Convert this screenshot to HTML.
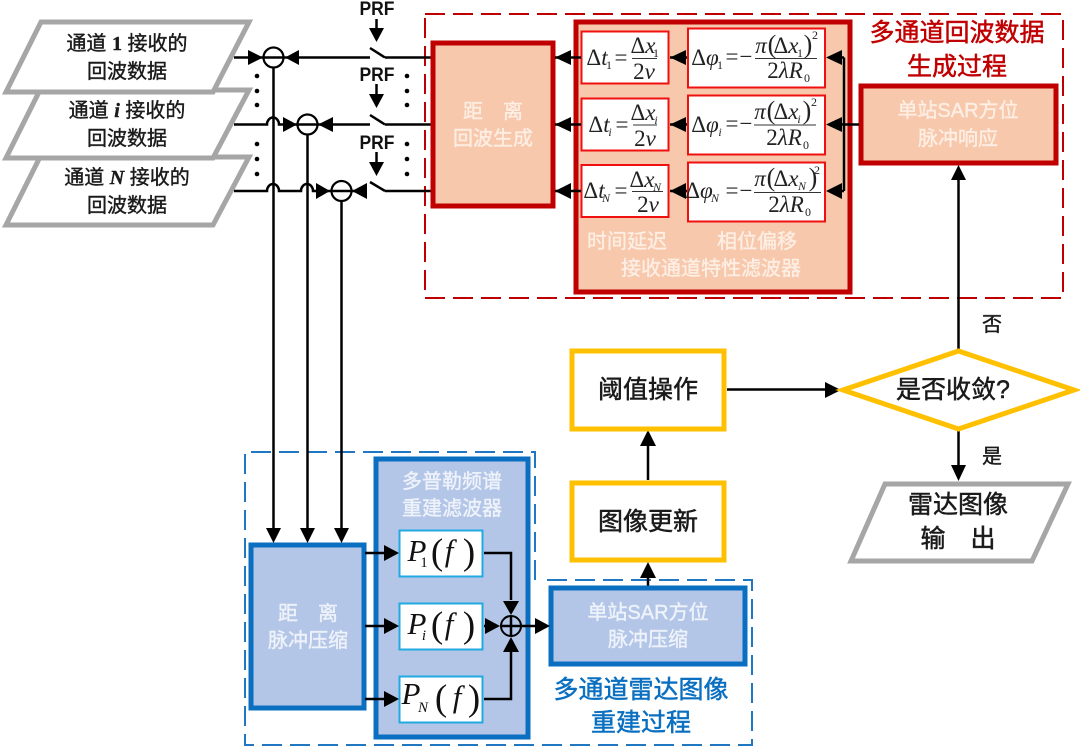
<!DOCTYPE html>
<html><head><meta charset="utf-8">
<style>
html,body{margin:0;padding:0;background:#fff}
svg{display:block}
text{font-family:"Liberation Sans","Noto Sans CJK SC",sans-serif;text-anchor:middle}
.k{font-size:20px;font-weight:400;fill:#1a1a1a;stroke:#1a1a1a;stroke-width:.4px}
.k2{font-size:25px;font-weight:400;fill:#1a1a1a;stroke:#1a1a1a;stroke-width:.5px}
.w{font-size:20px;font-weight:400;fill:#fdeee4;stroke:#fdeee4;stroke-width:.4px}
.wb{font-size:20px;font-weight:400;fill:#eef2fa;stroke:#eef2fa;stroke-width:.4px}
.m text{font-family:"Liberation Serif",serif;font-size:23px;fill:#222}
.m text.i{font-style:italic}
.m text.s{font-size:12px}
.m text.p{font-size:26px}
.f text{font-family:"Liberation Serif",serif;fill:#111}
.f text.P{font-size:31px;font-style:italic}
.f text.ff{font-size:31px;font-style:italic}
.f text.b{font-size:37px;font-weight:400}
.f text.s{font-size:15px}
.f text.si{font-size:15px;font-style:italic}
.l{stroke:#000;stroke-width:2.500;fill:none}
.a{fill:#000}
</style></head><body>
<svg width="1080" height="747" viewBox="0 0 1080 747" xmlns="http://www.w3.org/2000/svg">
<!-- parallelograms -->
<g fill="#fff" stroke="#a6a6a6" stroke-width="5">
<polygon points="40,157 249,157 213,225 6,225"/>
<polygon points="40,90 249,90 213,158 6,158"/>
<polygon points="41,22 249,22 213,92 6,92"/>
<polygon points="885,484 1068,484 1032,561 851,561"/>
</g>
<text class="k" x="127" y="50">通道 <tspan font-family="Liberation Serif" font-weight="700">1</tspan> 接收的</text>
<text class="k" x="127" y="78">回波数据</text>
<text class="k" x="127" y="117">通道 <tspan font-family="Liberation Serif" font-weight="700" font-style="italic">i</tspan> 接收的</text>
<text class="k" x="127" y="145">回波数据</text>
<text class="k" x="127" y="184">通道 <tspan font-family="Liberation Serif" font-weight="700" font-style="italic">N</tspan> 接收的</text>
<text class="k" x="127" y="212">回波数据</text>

<!-- dashed boxes -->
<rect x="425" y="14" width="638" height="284" fill="none" stroke="#c00000" stroke-width="2" stroke-dasharray="20 8"/>
<path d="M535,580V452H245V745H752V580H543" fill="none" stroke="#1f78c1" stroke-width="2" stroke-dasharray="20 8"/>

<!-- left wires -->
<path class="l" d="M234,57.500H263M283,57.500H370M385,57.500H432"/>
<path class="l" d="M234,124.500H267a6,7 0 0 1 12,0H297M317,124.500H370M385,124.500H432"/>
<path class="l" d="M234,191H267a6,7 0 0 1 12,0H301a6,7 0 0 1 12,0H331M351,191H362M385,191H432"/>
<path class="l" d="M370,48L385,57.500M370,115L385,124.500M370,182L385,191"/>
<path class="l" d="M273.500,67V530M307.500,134V530M341.500,201V530"/>
<g fill="#fff" stroke="#000" stroke-width="2.200">
<circle cx="273.500" cy="57.500" r="10"/><circle cx="307.500" cy="124.500" r="10"/><circle cx="341.500" cy="191" r="10"/>
</g>
<path class="l" d="M263.500,57.500H283.500M297.500,124.500H317.500M331.500,191H351.500"/>
<g class="a">
<polygon points="248,50 248,65 263,57.500"/><polygon points="299,50 299,65 285,57.500"/>
<polygon points="283,117 283,132 297,124.500"/><polygon points="333,117 333,132 318,124.500"/>
<polygon points="316,183 316,199 330,191"/><polygon points="367,183 367,199 352,191"/>
<polygon points="369,28 384,28 376.500,42"/>
<polygon points="369,94 384,94 376.500,108"/>
<polygon points="369,162 384,162 376.500,176"/>
<polygon points="266,528 281,528 273.500,543"/>
<polygon points="300,528 315,528 307.500,543"/>
<polygon points="334,528 349,528 341.500,543"/>
</g>
<path class="l" d="M376.500,19V30M376.500,84V96M376.500,152V164"/>
<g font-size="19" font-weight="700" fill="#111">
<text x="377" y="15" textLength="35" lengthAdjust="spacingAndGlyphs">PRF</text>
<text x="377" y="81" textLength="35" lengthAdjust="spacingAndGlyphs">PRF</text>
<text x="377" y="149" textLength="35" lengthAdjust="spacingAndGlyphs">PRF</text>
</g>
<g fill="#000">
<circle cx="257" cy="76" r="2.300"/><circle cx="257" cy="91" r="2.300"/><circle cx="257" cy="105" r="2.300"/>
<circle cx="257" cy="144" r="2.300"/><circle cx="257" cy="159" r="2.300"/><circle cx="257" cy="174" r="2.300"/>
<circle cx="407" cy="76" r="2.300"/><circle cx="407" cy="91" r="2.300"/><circle cx="407" cy="105" r="2.300"/>
<circle cx="407" cy="144" r="2.300"/><circle cx="407" cy="159" r="2.300"/><circle cx="407" cy="174" r="2.300"/>
</g>

<!-- red section -->
<rect x="433" y="43" width="120" height="163" fill="#f7c8ab" stroke="#c00000" stroke-width="5"/>
<text class="w" x="493" y="118">距　离</text>
<text class="w" x="493" y="145">回波生成</text>
<rect x="576" y="22" width="274" height="270" fill="#f7c8ab" stroke="#c00000" stroke-width="5"/>
<g fill="#fff" stroke="#f01010" stroke-width="2">
<rect x="581.500" y="31.500" width="87" height="52"/><rect x="581.500" y="98.500" width="87" height="52"/><rect x="581.500" y="165" width="87" height="52"/>
<rect x="688" y="28.500" width="137" height="59"/><rect x="688" y="95.500" width="137" height="59"/><rect x="688" y="162.500" width="137" height="59"/>
</g>
<!-- formulas -->
<g class="m">
<!-- t1 -->
<text x="597" y="65">Δ<tspan font-style="italic">t</tspan></text><text class="s" x="609" y="69">1</text><text x="621" y="65">=</text>
<text x="643" y="53">Δ<tspan font-style="italic">x</tspan></text><text class="s" x="656" y="57">1</text><text x="644" y="79">2<tspan font-style="italic">v</tspan></text>
<!-- ti -->
<text x="599" y="132">Δ<tspan font-style="italic">t</tspan></text><text class="s i" x="610" y="136">i</text><text x="622" y="132">=</text>
<text x="643" y="120">Δ<tspan font-style="italic">x</tspan></text><text class="s i" x="656" y="124">i</text><text x="645" y="146">2<tspan font-style="italic">v</tspan></text>
<!-- tN -->
<text x="594" y="198">Δ<tspan font-style="italic">t</tspan></text><text class="s i" x="606" y="202">N</text><text x="621" y="198">=</text>
<text x="642" y="187">Δ<tspan font-style="italic">x</tspan></text><text class="s i" x="657" y="191">N</text><text x="648" y="212">2<tspan font-style="italic">v</tspan></text>
<!-- phi 1 -->
<text x="705" y="65">Δ<tspan font-style="italic">φ</tspan></text><text class="s" x="720" y="69">1</text><text x="732" y="64">=</text><text x="746" y="64">−</text>
<text class="i" x="761" y="53">π</text><text class="p" x="772" y="53">(</text><text x="786" y="53">Δ<tspan font-style="italic">x</tspan></text><text class="s" x="800" y="57">1</text><text class="p" x="808" y="53">)</text><text class="s" x="815" y="39">2</text>
<text x="785" y="78">2<tspan font-style="italic">λR</tspan></text><text class="s" x="807" y="82">0</text>
<!-- phi i -->
<text x="705" y="132">Δ<tspan font-style="italic">φ</tspan></text><text class="s i" x="720" y="136">i</text><text x="732" y="131">=</text><text x="746" y="131">−</text>
<text class="i" x="760" y="119">π</text><text class="p" x="771" y="119">(</text><text x="786" y="119">Δ<tspan font-style="italic">x</tspan></text><text class="s i" x="799" y="123">i</text><text class="p" x="807" y="119">)</text><text class="s" x="814" y="106">2</text>
<text x="784" y="145">2<tspan font-style="italic">λR</tspan></text><text class="s" x="806" y="149">0</text>
<!-- phi N -->
<text x="699" y="198">Δ<tspan font-style="italic">φ</tspan></text><text class="s i" x="715" y="202">N</text><text x="732" y="198">=</text><text x="746" y="198">−</text>
<text class="i" x="760" y="186">π</text><text class="p" x="771" y="186">(</text><text x="786" y="186">Δ<tspan font-style="italic">x</tspan></text><text class="s i" x="802" y="190">N</text><text class="p" x="813" y="186">)</text><text class="s" x="817" y="174">2</text>
<text x="786" y="212">2<tspan font-style="italic">λR</tspan></text><text class="s" x="808" y="216">0</text>
</g>
<path stroke="#333" stroke-width="1" fill="none" d="M632,58.500H657M633,125H657M632,191.500H663M755,58.500H817M754,125H816M754,192.500H821"/>
<text class="w" x="627" y="248">时间延迟</text><text class="w" x="757" y="248">相位偏移</text>
<text class="w" x="711" y="275">接收通道特性滤波器</text>
<text x="957" y="41" font-size="25" fill="#c00000" stroke="#c00000" stroke-width=".5">多通道回波数据</text>
<text x="957" y="75" font-size="25" fill="#c00000" stroke="#c00000" stroke-width=".5">生成过程</text>
<rect x="861" y="86" width="195" height="77" fill="#f7c8ab" stroke="#c00000" stroke-width="5"/>
<text class="w" x="958" y="117">单站SAR方位</text><text class="w" x="958" y="145">脉冲响应</text>
<!-- red section arrows -->
<path class="l" d="M859,124.500H836M844,57.500V191M844,57.500H835M844,191H835M670,57.500H687M670,124.500H687M670,191H687M555,57.500H581M555,124.500H581M555,191H581"/>
<g class="a">
<polygon points="826,57.500 842,50 842,65"/><polygon points="826,124.500 842,117 842,132"/><polygon points="826,191 842,183 842,199"/>
<polygon points="670,57.500 686,50 686,65"/><polygon points="670,124.500 686,117 686,132"/><polygon points="670,191 686,183 686,199"/>
<polygon points="555,57.500 571,50 571,65"/><polygon points="555,124.500 571,117 571,132"/><polygon points="555,191 571,183 571,199"/>
<polygon points="958.500,165 966,180 951,180"/>
<polygon points="958.500,481 966,465 951,465"/>
<polygon points="841,390 825,382 825,398"/>
<polygon points="648,430 656,446 640,446"/>
<polygon points="648,562 656,578 640,578"/>
</g>
<path class="l" d="M958.500,175V350M958.500,430V470M727,389.500H830M648,442V480M648,575V586"/>
<!-- yellow -->
<g fill="#fff" stroke="#ffc000" stroke-width="5">
<rect x="572" y="351" width="152" height="78"/>
<rect x="572" y="483" width="152" height="77"/>
<polygon points="843,390 958.500,351 1074,390 958.500,429"/>
</g>
<text class="k2" x="648" y="398">阈值操作</text>
<text class="k2" x="648" y="530">图像更新</text>
<text class="k2" x="953" y="398">是否收敛?</text>
<text class="k" x="992" y="331">否</text>
<text class="k" x="992" y="463">是</text>
<text class="k2" x="958" y="513">雷达图像</text>
<text class="k2" x="958" y="547">输　出</text>
<!-- blue section -->
<rect x="251" y="545" width="113" height="163" fill="#b4c6e7" stroke="#0a6fc0" stroke-width="5"/>
<text class="wb" x="308" y="620">距　离</text><text class="wb" x="308" y="647">脉冲压缩</text>
<rect x="376" y="459" width="152" height="278" fill="#b4c6e7" stroke="#0a6fc0" stroke-width="5"/>
<text class="wb" x="452" y="488">多普勒频谱</text><text class="wb" x="452" y="515">重建滤波器</text>
<g fill="#fff" stroke="#21a9e1" stroke-width="2">
<rect x="399.500" y="530.500" width="83" height="46"/><rect x="399.500" y="603.500" width="83" height="46"/><rect x="399.500" y="676.500" width="83" height="46"/>
</g>
<g class="f">
<text class="P" x="417" y="561">P</text><text class="s" x="424" y="567">1</text><text class="b" x="437" y="564">(</text><text class="ff" x="449" y="561">f</text><text class="b" x="469" y="564">)</text>
<text class="P" x="417" y="634">P</text><text class="si" x="424" y="640">i</text><text class="b" x="437" y="637">(</text><text class="ff" x="449" y="634">f</text><text class="b" x="469" y="637">)</text>
<text class="P" x="411" y="704">P</text><text class="si" x="423" y="712">N</text><text class="b" x="441" y="710">(</text><text class="ff" x="457" y="707">f</text><text class="b" x="474" y="710">)</text>
</g>
<rect x="551" y="588" width="194" height="76" fill="#b4c6e7" stroke="#0a6fc0" stroke-width="5"/>
<text class="wb" x="648" y="619">单站SAR方位</text><text class="wb" x="648" y="646">脉冲压缩</text>
<text x="641" y="698" font-size="25" fill="#0a6fc0" stroke="#0a6fc0" stroke-width=".5">多通道雷达图像</text>
<text x="641" y="731" font-size="25" fill="#0a6fc0" stroke="#0a6fc0" stroke-width=".5">重建过程</text>
<path class="l" d="M365,553H385M365,626H385M365,699H385M484,553H511V600M484,699H511V650M522,626H535M484,626H490"/>
<g class="a">
<polygon points="399,553 384,545 384,561"/><polygon points="399,626 384,618 384,634"/><polygon points="399,699 384,691 384,707"/>
<polygon points="511,615 503,601 519,601"/><polygon points="511,637 503,652 519,652"/>
<polygon points="500,626 485,618 485,634"/><polygon points="550,626 535,618 535,634"/>
</g>
<circle cx="511" cy="626" r="10" fill="none" stroke="#000" stroke-width="2"/>
<path class="l" d="M501,626H521M511,616V636"/>
</svg>
</body></html>
